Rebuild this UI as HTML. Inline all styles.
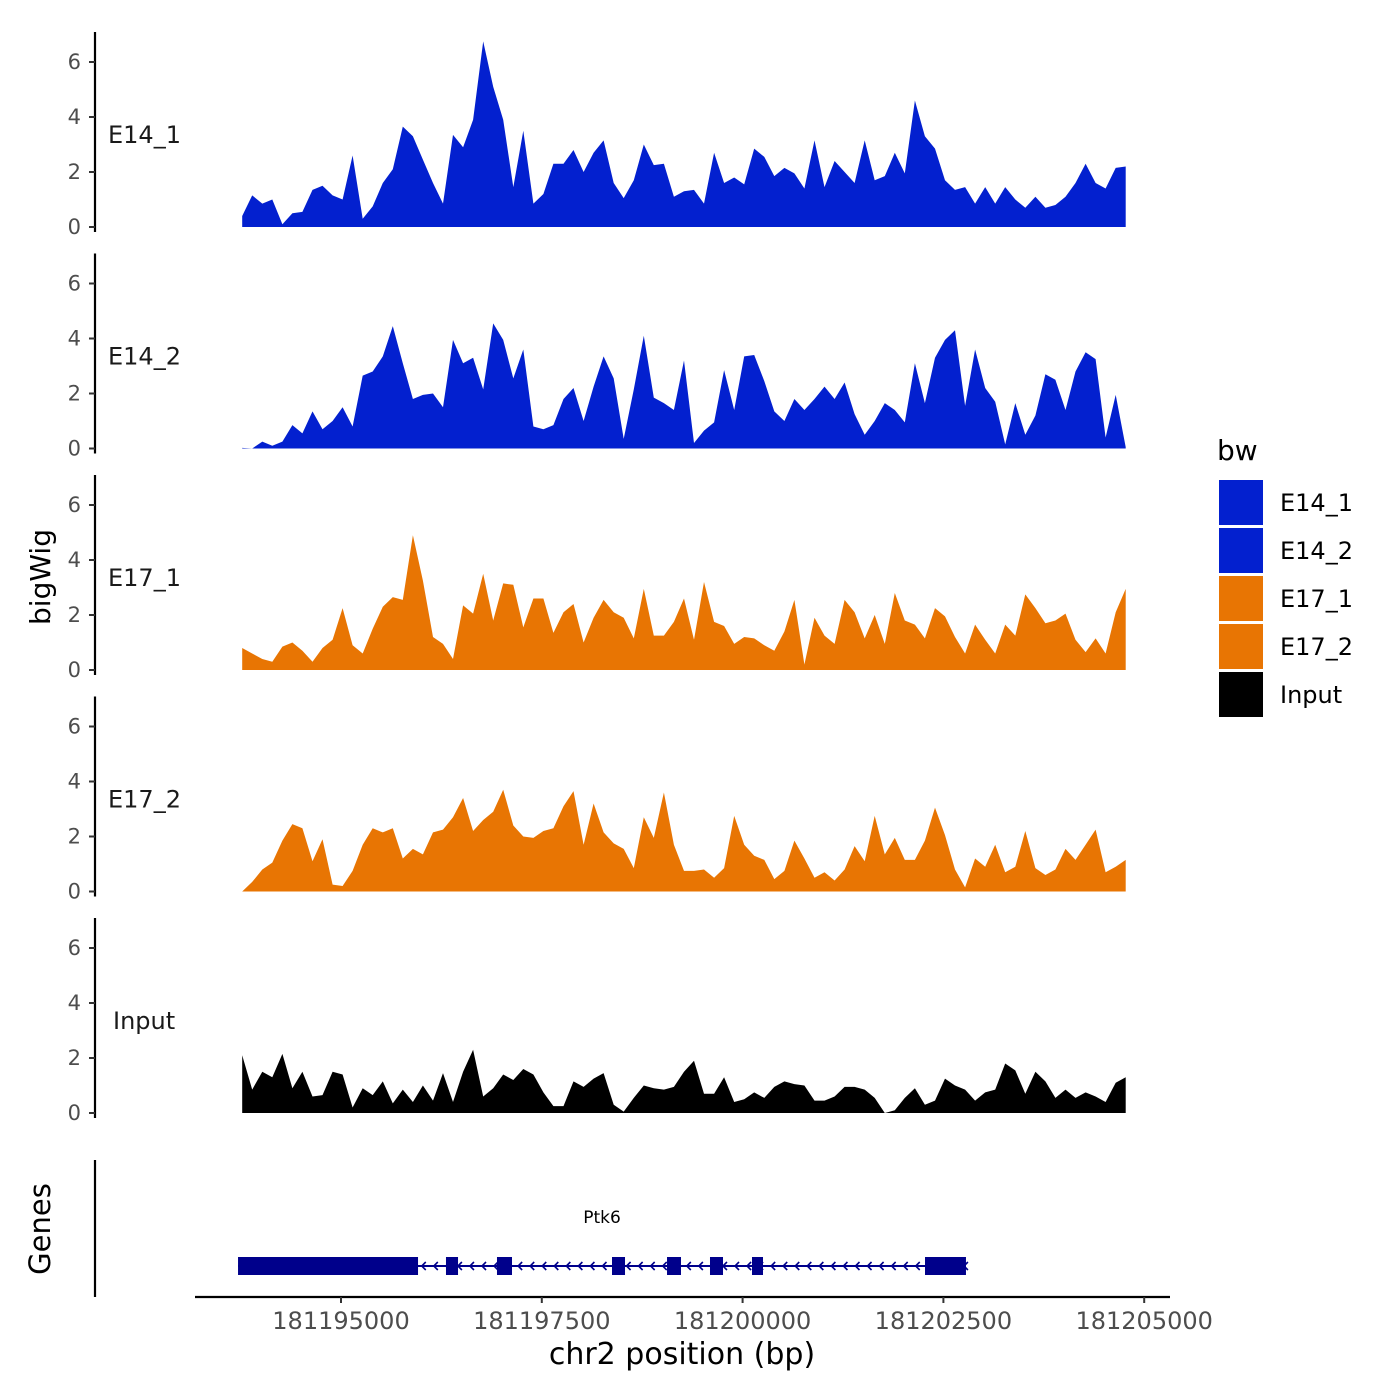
<!DOCTYPE html>
<html><head><meta charset="utf-8"><style>
html,body{margin:0;padding:0;background:#fff;}
svg{display:block;font-family:"DejaVu Sans","Liberation Sans",sans-serif;}
</style></head><body>
<svg id="chart" width="1400" height="1400" viewBox="0 0 1400 1400">
<g id="tracks"></g>
<g id="genes"></g>
<g id="xaxis"></g>
<text x="42" y="577" transform="rotate(-90 42 577)" text-anchor="middle" dominant-baseline="middle" font-size="28" fill="#000">bigWig</text>
<text x="42" y="1229" transform="rotate(-90 42 1229)" text-anchor="middle" dominant-baseline="middle" font-size="29" fill="#000">Genes</text>
<text x="682" y="1364" text-anchor="middle" font-size="30" fill="#000">chr2 position (bp)</text>
<g id="legend">
<text x="1217" y="460" font-size="28" fill="#000">bw</text>
</g>
</svg>
<script>
const trackNames = ["E14_1","E14_2","E17_1","E17_2","Input"];
const trackColors = ["#0320CF","#0320CF","#E87503","#E87503","#000000"];
const posStart = 181193770;
const posStep = 125;
const e14_1 = [0.4,1.15,0.85,1.0,0.1,0.5,0.55,1.35,1.5,1.15,1.0,2.6,0.3,0.75,1.6,2.1,3.65,3.3,2.45,1.6,0.85,3.35,2.9,3.9,6.75,5.1,3.9,1.45,3.5,0.85,1.2,2.3,2.3,2.8,2.0,2.7,3.15,1.6,1.05,1.7,3.0,2.25,2.3,1.1,1.3,
1.35,0.85,2.7,1.6,1.8,1.55,2.85,2.55,1.85,2.15,1.95,1.4,3.15,1.45,2.4,2.0,1.6,3.15,1.7,1.85,2.7,1.95,4.6,3.3,2.85,1.7,1.35,1.45,0.85,1.45,0.85,1.45,1.0,0.7,1.1,0.7,0.8,1.1,1.6,2.3,1.6,1.4,2.15,2.2];
const e14_2 = [0.02,0,0.25,0.1,0.25,0.85,0.55,1.35,0.7,1.0,1.5,0.8,2.65,2.8,3.35,4.45,3.1,1.8,1.95,2.0,1.5,3.95,3.1,3.3,2.15,4.55,3.95,2.55,3.6,0.8,0.7,0.85,1.8,2.2,1.0,2.25,3.35,2.55,0.35,2.15,4.1,1.85,1.65,1.4,3.2,
0.2,0.65,0.95,2.85,1.4,3.35,3.4,2.45,1.35,1.0,1.8,1.4,1.8,2.25,1.8,2.4,1.25,0.5,1.0,1.65,1.4,0.95,3.1,1.65,3.3,3.95,4.3,1.55,3.6,2.2,1.7,0.15,1.65,0.5,1.2,2.7,2.5,1.4,2.8,3.5,3.25,0.4,1.95,0.05];
const e17_1 = [0.8,0.6,0.4,0.3,0.85,1.0,0.7,0.3,0.8,1.1,2.25,0.9,0.6,1.5,2.3,2.65,2.55,4.9,3.25,1.2,0.95,0.4,2.35,2.05,3.5,1.8,3.15,3.1,1.55,2.6,2.6,1.35,2.1,2.4,1.0,1.9,2.55,2.1,1.9,1.15,2.95,1.25,1.25,1.75,2.6,
1.1,3.2,1.75,1.6,0.95,1.2,1.15,0.9,0.7,1.4,2.55,0.2,1.9,1.25,0.95,2.55,2.1,1.15,2.0,0.95,2.8,1.8,1.65,1.15,2.25,1.95,1.2,0.6,1.65,1.1,0.6,1.65,1.25,2.75,2.25,1.7,1.8,2.05,1.1,0.65,1.15,0.6,2.1,2.95];
const e17_2 = [0,0.35,0.8,1.05,1.85,2.45,2.3,1.1,1.9,0.25,0.2,0.75,1.7,2.3,2.15,2.3,1.2,1.55,1.35,2.15,2.25,2.7,3.4,2.2,2.6,2.9,3.7,2.4,2.0,1.95,2.2,2.3,3.1,3.65,1.7,3.2,2.15,1.75,1.55,0.85,2.7,1.95,3.6,1.7,0.75,
0.75,0.8,0.5,0.85,2.75,1.7,1.3,1.15,0.45,0.75,1.85,1.2,0.5,0.7,0.4,0.8,1.65,1.1,2.75,1.35,1.95,1.15,1.15,1.85,3.05,2.05,0.8,0.15,1.2,0.9,1.7,0.7,0.9,2.2,0.85,0.6,0.8,1.55,1.15,1.7,2.25,0.7,0.9,1.15];
const input = [2.1,0.85,1.5,1.3,2.15,0.9,1.5,0.6,0.65,1.5,1.4,0.2,0.9,0.65,1.15,0.35,0.85,0.4,1.0,0.45,1.45,0.4,1.5,2.3,0.6,0.9,1.4,1.2,1.6,1.4,0.75,0.25,0.25,1.15,0.95,1.25,1.45,0.3,0.05,0.55,1.0,0.9,0.85,0.95,1.5,
1.9,0.7,0.7,1.3,0.4,0.5,0.75,0.55,0.95,1.15,1.05,1.0,0.45,0.45,0.6,0.95,0.95,0.85,0.55,0.0,0.1,0.55,0.9,0.3,0.45,1.25,1.0,0.85,0.45,0.75,0.85,1.8,1.55,0.7,1.5,1.15,0.55,0.85,0.55,0.75,0.6,0.4,1.1,1.3];
const yTicks = [0,2,4,6];
const xTicks = [181195000,181197500,181200000,181202500,181205000];
const xTickLabels = ["181195000","181197500","181200000","181202500","181205000"];
const geneName = "Ptk6";
const geneStart = 181193718;
const geneEnd = 181202781;
const exonStarts = [181193718,181196307,181196942,181198374,181199059,181199594,181200117,181202271];
const exonEnds = [181195959,181196457,181197129,181198536,181199233,181199756,181200254,181202781];

const NS = "http://www.w3.org/2000/svg";
function mk(tag, attrs, parent){const e=document.createElementNS(NS,tag);for(const k in attrs)e.setAttribute(k,attrs[k]);parent.appendChild(e);return e;}
function xScale(bp){return 341 + (bp-181195000)*0.08032;}
function panelZero(i){return 227 + i*221.5;}
function yScale(i,v){return panelZero(i) - v*27.5;}

const series = [e14_1,e14_2,e17_1,e17_2,input];
const tracks = document.getElementById('tracks');
series.forEach((vals,i)=>{
  const g = mk('g',{},tracks);
  
  
  const z = panelZero(i);
  const ax = mk('line',{x1:95,x2:95,y1:z-195,y2:z+5,stroke:'#000','stroke-width':2.2},g);
  
  
  yTicks.forEach(t=>{
    const y = yScale(i,t);
    const tk = mk('line',{x1:89,x2:95,y1:y,y2:y,stroke:'#333','stroke-width':2},g);
    
    
    const tl = mk('text',{x:81,y:y+7,'text-anchor':'end','font-size':21,fill:'#4d4d4d'},g);
    tl.textContent = t;
    
    
  });
  const lab = mk('text',{x:i===4?113:108,y:z-84,'font-size':24,fill:'#1a1a1a'},g);
  lab.textContent = trackNames[i];
  
  
  let d = 'M'+xScale(posStart).toFixed(1)+','+z;
  vals.forEach((v,k)=>{d += ' L'+xScale(posStart+k*posStep).toFixed(1)+','+yScale(i,v).toFixed(1);});
  d += ' L'+xScale(posStart+(vals.length-1)*posStep).toFixed(1)+','+z+' Z';
  const area = mk('path',{d:d,fill:trackColors[i]},g);
  
  
});

// genes
const gg = document.getElementById('genes');
const gax = mk('line',{x1:95,x2:95,y1:1160,y2:1297,stroke:'#000','stroke-width':2.2},gg);


const gy = 1266;
const gl = mk('line',{x1:xScale(geneStart),x2:xScale(geneEnd),y1:gy,y2:gy,stroke:'#00008B','stroke-width':2},gg);


for(let bp=geneStart+50; bp<geneEnd; bp+=150){
  const x = xScale(bp);
  const ch = mk('polyline',{points:(x+3)+','+(gy-4)+' '+(x-1)+','+gy+' '+(x+3)+','+(gy+4),fill:'none',stroke:'#00008B','stroke-width':1.6},gg);
  
  
}
exonStarts.forEach((s,k)=>{
  const r = mk('rect',{x:xScale(s),y:gy-9,width:xScale(exonEnds[k])-xScale(s),height:18,fill:'#00008B'},gg);
  
  
});
const gn = mk('text',{x:xScale((geneStart+geneEnd)/2),y:1223,'text-anchor':'middle','font-size':17,fill:'#000'},gg);
gn.textContent = geneName;



// x axis
const xg = document.getElementById('xaxis');
const xl = mk('line',{x1:195,x2:1170,y1:1297,y2:1297,stroke:'#000','stroke-width':2.2},xg);


xTicks.forEach((t,k)=>{
  const x = xScale(t);
  const tk = mk('line',{x1:x,x2:x,y1:1297,y2:1303,stroke:'#333','stroke-width':2},xg);
  
  
  const tl = mk('text',{x:x,y:1329,'text-anchor':'middle','font-size':24,fill:'#4d4d4d'},xg);
  tl.textContent = xTickLabels[k];
  
  
});

// legend
const lg = document.getElementById('legend');
trackNames.forEach((n,k)=>{
  const y = 480 + k*48;
  const r = mk('rect',{x:1219,y:y,width:44,height:45,fill:trackColors[k]},lg);
  
  
  const t = mk('text',{x:1280,y:y+31,'font-size':24,fill:'#000'},lg);
  t.textContent = n;
  
  
});
</script>
</body></html>
